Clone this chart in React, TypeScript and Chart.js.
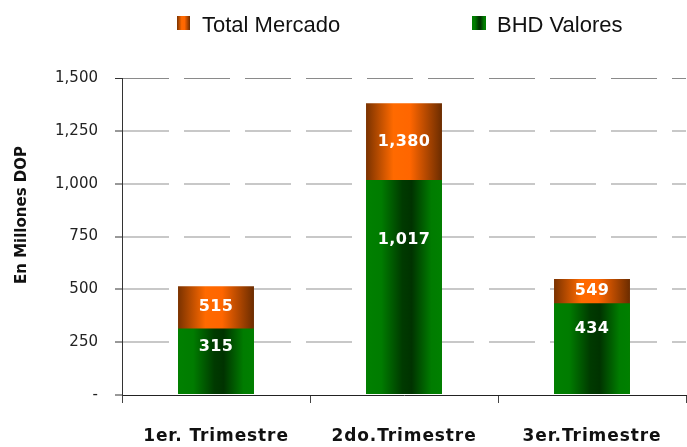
import React, { useEffect, useRef } from 'react';
import { Chart, registerables } from 'chart.js';

Chart.register(...registerables);

const categories = ['1er. Trimestre', '2do.Trimestre', '3er.Trimestre'];
const totalMercado = [515, 1380, 549];
const bhdValores = [315, 1017, 434];
const seriesNames = ['Total Mercado', 'BHD Valores'];
const yMin = 0;
const yMax = 1500;
const yStep = 250;

const BAR_FRACTION = 0.404;
const W = 687;
const H = 447;

const fmt = (v: number) => v.toLocaleString('en-US');

function orangeGradient(ctx: CanvasRenderingContext2D, x0: number, x1: number) {
  const g = ctx.createLinearGradient(x0, 0, x1, 0);
  g.addColorStop(0, '#7a3200');
  g.addColorStop(0.36, '#ff6a00');
  g.addColorStop(0.58, '#ff6600');
  g.addColorStop(1, '#6b2c00');
  return g;
}

function greenGradient(ctx: CanvasRenderingContext2D, x0: number, x1: number) {
  const g = ctx.createLinearGradient(x0, 0, x1, 0);
  g.addColorStop(0, '#008000');
  g.addColorStop(0.2, '#007c00');
  g.addColorStop(0.48, '#003a00');
  g.addColorStop(0.6, '#003300');
  g.addColorStop(0.86, '#007c00');
  g.addColorStop(1, '#008000');
  return g;
}

function barFill(kind: 'orange' | 'green') {
  return (c: any) => {
    const solid = kind === 'orange' ? '#ff6600' : '#008000';
    const chart = c.chart;
    if (c.type !== 'data' || !chart.chartArea || !chart.scales || !chart.scales.x) return solid;
    const xs = chart.scales.x;
    const center = xs.getPixelForValue(c.dataIndex);
    if (!isFinite(center)) return solid;
    const w = (chart.chartArea.width / categories.length) * BAR_FRACTION;
    return kind === 'orange'
      ? orangeGradient(chart.ctx, center - w / 2, center + w / 2)
      : greenGradient(chart.ctx, center - w / 2, center + w / 2);
  };
}

const textPlugin = {
  id: 'customText',
  afterDatasetsDraw(chart: any) {
    const ctx: CanvasRenderingContext2D = chart.ctx;
    const mt = chart.getDatasetMeta(0);
    const mb = chart.getDatasetMeta(1);
    ctx.save();
    ctx.fillStyle = '#ffffff';
    ctx.font = 'bold 16px "DejaVu Sans"';
    ctx.textAlign = 'center';
    ctx.textBaseline = 'middle';
    (ctx as any).letterSpacing = '0.4px';
    mt.data.forEach((el: any, i: number) => {
      const b = mb.data[i];
      ctx.fillText(fmt(totalMercado[i]), el.x, (el.y + b.y) / 2);
      ctx.fillText(fmt(bhdValores[i]), b.x, b.y + 0.28 * (b.base - b.y));
    });
    ctx.restore();
  },
  afterDraw(chart: any) {
    const ctx: CanvasRenderingContext2D = chart.ctx;
    const xs = chart.scales.x;

    // category labels
    ctx.save();
    ctx.fillStyle = '#111111';
    ctx.font = 'bold 17px "DejaVu Sans"';
    (ctx as any).letterSpacing = '0.9px';
    ctx.textAlign = 'center';
    ctx.textBaseline = 'middle';
    categories.forEach((c, i) => {
      ctx.fillText(c, xs.getPixelForValue(i), 437);
    });
    ctx.restore();

    // y axis title
    ctx.save();
    ctx.translate(22, 215);
    ctx.rotate(-Math.PI / 2);
    ctx.fillStyle = '#111111';
    ctx.font = 'bold 15px "DejaVu Sans"';
    ctx.textAlign = 'center';
    ctx.textBaseline = 'middle';
    ctx.fillText('En Millones DOP', 0, 0);
    ctx.restore();

    // legend
    ctx.save();
    ctx.fillStyle = orangeGradient(ctx, 177, 190);
    ctx.fillRect(177, 16, 13, 14);
    ctx.fillStyle = greenGradient(ctx, 472, 486);
    ctx.fillRect(472, 16, 14, 14);
    ctx.fillStyle = '#111111';
    ctx.font = '22px "Liberation Sans", Arial, sans-serif';
    ctx.textAlign = 'left';
    ctx.textBaseline = 'alphabetic';
    ctx.fillText(seriesNames[0], 202, 32);
    ctx.fillText(seriesNames[1], 497, 32);
    ctx.restore();
  },
};

export default function App() {
  const ref = useRef<HTMLCanvasElement | null>(null);

  useEffect(() => {
    if (!ref.current) return;
    Chart.defaults.font.family = '"DejaVu Sans"';
    const chart = new Chart(ref.current, {
      type: 'bar',
      data: {
        labels: categories,
        datasets: [
          {
            label: seriesNames[0],
            data: totalMercado,
            backgroundColor: barFill('orange'),
            borderWidth: 0,
            grouped: false,
            order: 2,
            barPercentage: BAR_FRACTION,
            categoryPercentage: 1,
          } as any,
          {
            label: seriesNames[1],
            data: bhdValores,
            backgroundColor: barFill('green'),
            borderWidth: 0,
            grouped: false,
            order: 1,
            barPercentage: BAR_FRACTION,
            categoryPercentage: 1,
          } as any,
        ],
      },
      options: {
        animation: false,
        responsive: false,
        maintainAspectRatio: false,
        devicePixelRatio: 1,
        layout: { padding: { top: 78, right: 1, bottom: 0, left: 0 } },
        plugins: {
          legend: { display: false },
          tooltip: { enabled: false },
        },
        scales: {
          x: {
            stacked: false,
            grid: {
              offset: true,
              drawOnChartArea: false,
              drawTicks: true,
              tickLength: 8,
              tickColor: '#444444',
              color: '#444444',
            },
            border: { display: true, color: '#222222', width: 1 },
            ticks: { display: false },
            afterFit: (s: any) => {
              s.height = 52;
            },
          },
          y: {
            stacked: false,
            min: yMin,
            max: yMax,
            ticks: {
              stepSize: yStep,
              color: '#222222',
              padding: 17,
              font: { size: 15, family: '"DejaVu Sans"' },
              callback: (v: any) => (Number(v) === 0 ? '-' : fmt(Number(v))),
            },
            grid: {
              color: (c: any) => {
                const v = c.tick ? c.tick.value : null;
                if (v === yMax) return '#8a8a8a';
                if (v === 0) return 'rgba(0,0,0,0)';
                return '#c8c8c8';
              },
              lineWidth: (c: any) => (c.tick && c.tick.value === yMax ? 1 : 2),
              tickColor: '#333333',
              tickLength: 7,
              tickWidth: 1,
            },
            border: { display: true, color: '#333333', width: 1, dash: [46, 15] },
            afterFit: (s: any) => {
              s.width = 122;
            },
          },
        },
      },
      plugins: [textPlugin],
    });
    return () => chart.destroy();
  }, []);

  return (
    <div style={{ position: 'absolute', left: 0, top: 0, width: W, height: H }}>
      <canvas ref={ref} width={W} height={H} style={{ display: 'block' }} />
    </div>
  );
}
